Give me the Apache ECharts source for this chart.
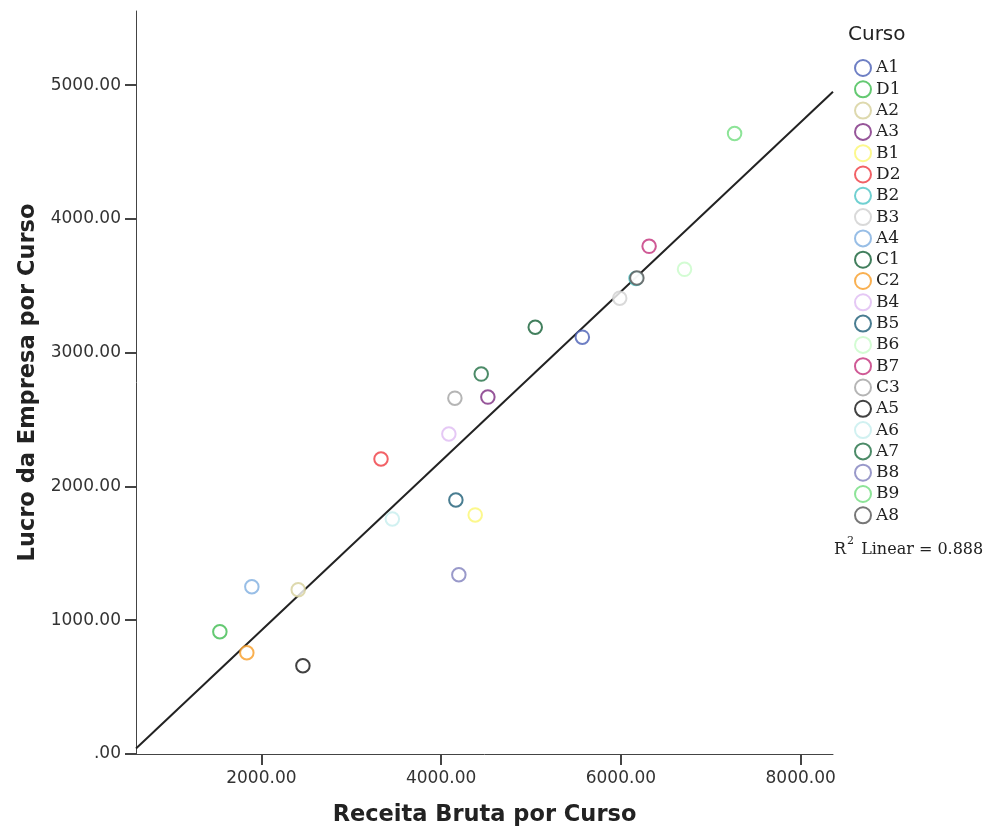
<!DOCTYPE html>
<html>
<head>
<meta charset="utf-8">
<script src="https://cdn.jsdelivr.net/npm/echarts@6/dist/echarts.min.js"></script>
<style>
html,body{margin:0;padding:0;background:#fff;}
#chart{width:990px;height:832px;}
</style>
</head>
<body>
<div id="chart"></div>
<script>
// ---- data ----
const courses = ['A1','D1','A2','A3','B1','D2','B2','B3','A4','C1','C2','B4','B5','B6','B7','C3','A5','A6','A7','B8','B9','A8'];
const receita = [5571,1538,2410,4520,4379,3331,6168,5987,1894,5047,1838,4086,4164,6708,6314,4153,2462,3457,4446,4197,7265,6178];
const lucro   = [3116, 914,1228,2668,1787,2205,3554,3407,1250,3190, 757,2392,1899,3623,3795,2660, 660,1757,2840,1340,4638,3558];
const courseColors = ['#4a5fb5','#3dbb4f','#d6d09a','#7c2a80','#fbf670','#ef3a40','#4cc4c6','#d0d0d0','#7eaee0','#135f35','#f89c25','#dfbaf2','#1c5c76','#c8fbc8','#c3307a','#a3a3a3','#111111','#c5eeee','#1f6e42','#8080bd','#70dd7e','#555555'];
const xTicks = [2000,4000,6000,8000];
const yTicks = [0,1000,2000,3000,4000,5000];
const fitX = [605, 8360];
const fitY = [41, 4951];
const r2Text = '0.888';

const sans = 'DejaVu Sans';
const serif = 'DejaVu Serif';
const axisColor = '#444';

const chart = echarts.init(document.getElementById('chart'), null, {renderer:'canvas'});

const scatterSeries = courses.map((c, i) => ({
  name: c,
  type: 'scatter',
  symbol: 'emptyCircle',
  symbolSize: 13.5,
  itemStyle: { color: courseColors[i], borderColor: courseColors[i], borderWidth: 2 },
  data: [[receita[i], lucro[i]]],
  z: 3
}));

const fitSeries = {
  name: 'fit',
  type: 'line',
  data: fitX.map((x, i) => [x, fitY[i]]),
  symbol: 'none',
  lineStyle: { color: '#222', width: 2 },
  z: 2,
  silent: true
};

const fmt = v => (v === 0 ? '.00' : v.toFixed(2));

chart.setOption({
  animation: false,
  backgroundColor: '#fff',
  title: [
    { text: 'Curso', left: 848, top: 25, padding: 0,
      textStyle: { fontFamily: sans, fontSize: 20, fontWeight: 'normal', color: '#222' } },
    { text: '{n|R}{sup|2}{n| Linear = ' + r2Text + '}', left: 834, top: 536, padding: 0,
      textStyle: { fontFamily: serif, fontSize: 16, fontWeight: 'normal', color: '#222',
        rich: {
          n: { fontFamily: serif, fontSize: 16, color: '#222', lineHeight: 22, verticalAlign: 'bottom' },
          sup: { fontFamily: serif, fontSize: 11, color: '#222', lineHeight: 12, verticalAlign: 'top', padding: [0, 2, 0, 1] }
        } } }
  ],
  legend: {
    orient: 'vertical',
    left: 854,
    top: 59,
    padding: 0,
    itemWidth: 16,
    itemHeight: 16,
    itemGap: 3.3,
    selectedMode: false,
    data: courses,
    textStyle: { fontFamily: serif, fontSize: 17, lineHeight: 17, color: '#222' }
  },
  grid: { left: 136, right: 157, top: 11, bottom: 76, containLabel: false },
  xAxis: {
    type: 'value',
    min: fitX[0],
    max: fitX[1],
    name: 'Receita Bruta por Curso',
    nameLocation: 'middle',
    nameGap: 50,
    nameTextStyle: { fontFamily: sans, fontSize: 22.5, fontWeight: 'bold', color: '#222' },
    axisLine: { show: true, onZero: false, lineStyle: { color: axisColor, width: 1 } },
    axisTick: { show: true, length: 11, customValues: xTicks, lineStyle: { color: axisColor, width: 2 } },
    axisLabel: { customValues: xTicks, formatter: fmt, margin: 16, fontFamily: sans, fontSize: 17, color: '#333' },
    splitLine: { show: false }
  },
  yAxis: {
    type: 'value',
    min: 0,
    max: 5554,
    name: 'Lucro da Empresa por Curso',
    nameLocation: 'middle',
    nameGap: 95,
    nameTextStyle: { fontFamily: sans, fontSize: 22.5, fontWeight: 'bold', color: '#222' },
    axisLine: { show: true, onZero: false, lineStyle: { color: axisColor, width: 1 } },
    axisTick: { show: true, length: 11, customValues: yTicks, lineStyle: { color: axisColor, width: 2 } },
    axisLabel: { customValues: yTicks, formatter: fmt, margin: 15, fontFamily: sans, fontSize: 17, color: '#333' },
    splitLine: { show: false }
  },
  series: [fitSeries].concat(scatterSeries)
});
</script>
</body>
</html>
